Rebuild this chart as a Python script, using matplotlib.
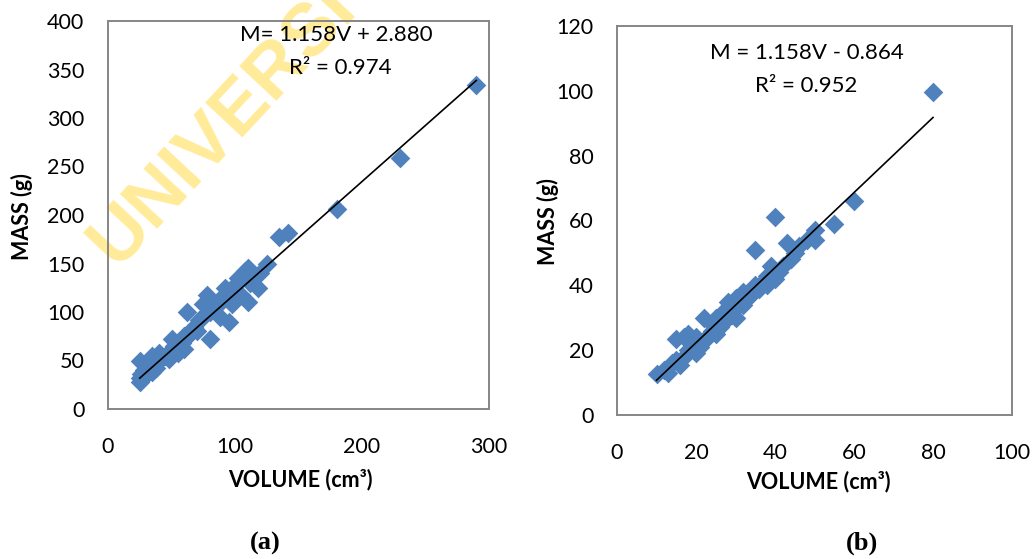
import matplotlib
matplotlib.use("Agg")
import matplotlib.pyplot as plt
import numpy as np

# ---- data (a) ----
vol_a = [25, 25, 26, 25, 28, 30, 32, 35, 35, 38, 40, 40, 45, 48, 50, 50, 52, 55, 58, 60,
         60, 62, 65, 68, 70, 72, 75, 75, 78, 80, 80, 82, 85, 88, 90, 92, 95, 95, 98, 100,
         102, 105, 108, 110, 110, 112, 115, 118, 120, 125, 135, 142, 180, 230, 290]
mass_a = [28, 32, 36, 50, 40, 35, 45, 38, 55, 42, 50, 58, 55, 52, 60, 72, 65, 58, 68, 62,
          75, 100, 78, 85, 80, 92, 108, 95, 118, 72, 100, 110, 105, 95, 115, 125, 90, 120, 108, 128,
          135, 118, 142, 145, 110, 130, 138, 125, 140, 150, 177, 181, 206, 259, 334]
slope_a, icpt_a, r2_a = 1.158, 2.880, 0.974

# ---- data (b) ----
vol_b = [10, 12, 13, 14, 15, 15, 16, 17, 17, 18, 18, 19, 20, 20, 21, 22, 22, 23, 24, 24,
         25, 25, 26, 27, 27, 28, 28, 29, 30, 30, 30, 32, 32, 33, 34, 35, 35, 36, 37, 38,
         38, 39, 40, 40, 41, 42, 43, 44, 45, 46, 48, 50, 50, 55, 60, 80]
mass_b = [12.5, 14, 13, 16, 17, 23.5, 15.5, 18, 24, 20, 25, 22, 19, 24, 21, 23, 30, 24, 26, 28,
          25, 30, 27, 29, 32, 30, 35, 31, 33, 36, 30, 34, 38, 36, 37, 40, 51, 39, 41, 40,
          43, 46, 42, 61, 44, 46, 53, 48, 50, 52, 54, 57, 54, 59, 66, 99.5]
slope_b, icpt_b, r2_b = 1.158, -0.864, 0.952

W, H = 1036, 559
fig = plt.figure(figsize=(W / 100, H / 100), dpi=100)
FONT = "Lato"
marker_col = "#4F81BD"
spine_col = "#868686"

def box(l, t, r, b):
    return [l / W, 1 - b / H, (r - l) / W, (b - t) / H]

ax1 = fig.add_axes(box(108, 21, 489, 409))
ax2 = fig.add_axes(box(617, 26, 1012, 415))
for ax in (ax1, ax2):
    ax.patch.set_alpha(0)

def style(ax, xlim, xticks, ylim, yticks):
    ax.set_xlim(*xlim)
    ax.set_ylim(*ylim)
    ax.set_xticks(xticks)
    ax.set_yticks(yticks)
    ax.tick_params(length=0, labelsize=15.5, pad=17)
    ax.tick_params(axis="x", pad=20)
    for lab in ax.get_xticklabels() + ax.get_yticklabels():
        lab.set_fontfamily(FONT)
    for s in ax.spines.values():
        s.set_color(spine_col)
        s.set_linewidth(1.4)

def draw(ax, v, m, slope, icpt):
    ax.scatter(v, m, marker="D", s=100, color=marker_col, linewidths=0, zorder=2)
    xs = np.array([min(v), max(v)])
    ax.plot(xs, slope * xs + icpt, color="black", lw=1.2, zorder=3)

draw(ax1, vol_a, mass_a, slope_a, icpt_a)
style(ax1, (0, 300), [0, 100, 200, 300], (0, 400), list(range(0, 401, 50)))
ax1.text(0.60, 0.965, f"M= {slope_a:.3f}V + {icpt_a:.3f}", transform=ax1.transAxes,
         ha="center", va="center", fontsize=16, family=FONT)
ax1.text(0.61, 0.88, f"R² = {r2_a:.3f}", transform=ax1.transAxes,
         ha="center", va="center", fontsize=16, family=FONT)

draw(ax2, vol_b, mass_b, slope_b, icpt_b)
style(ax2, (0, 100), list(range(0, 101, 20)), (0, 120), list(range(0, 121, 20)))
ax2.text(0.48, 0.93, f"M = {slope_b:.3f}V - {abs(icpt_b):.3f}", transform=ax2.transAxes,
         ha="center", va="center", fontsize=16, family=FONT)
ax2.text(0.48, 0.845, f"R² = {r2_b:.3f}", transform=ax2.transAxes,
         ha="center", va="center", fontsize=16, family=FONT)

# axis labels
fig.text(22 / W, 1 - 217 / H, "MASS (g)", rotation=90, ha="center", va="center",
         fontsize=15.5, fontweight="bold", family=FONT)
fig.text(548 / W, 1 - 222 / H, "MASS (g)", rotation=90, ha="center", va="center",
         fontsize=15.5, fontweight="bold", family=FONT)
fig.text(300 / W, 1 - 480 / H, "VOLUME (cm³)", ha="center", va="center",
         fontsize=15.5, fontweight="bold", family=FONT)
fig.text(818 / W, 1 - 482 / H, "VOLUME (cm³)", ha="center", va="center",
         fontsize=15.5, fontweight="bold", family=FONT)

fig.text(265 / W, 1 - 543 / H, "(a)", ha="center", va="center", fontsize=19,
         fontweight="bold", family="Liberation Serif")
fig.text(862 / W, 1 - 543 / H, "(b)", ha="center", va="center", fontsize=19,
         fontweight="bold", family="Liberation Serif")

# watermark (drawn beneath the transparent axes)
fig.text(116 / W, 1 - 268 / H, "UNIVERSITY", rotation=47, rotation_mode="anchor",
         ha="left", va="baseline", fontsize=54, fontweight="bold",
         family="Liberation Sans", color="#FFE680", alpha=0.8, zorder=-1)

fig.savefig("out.png", dpi=100)
